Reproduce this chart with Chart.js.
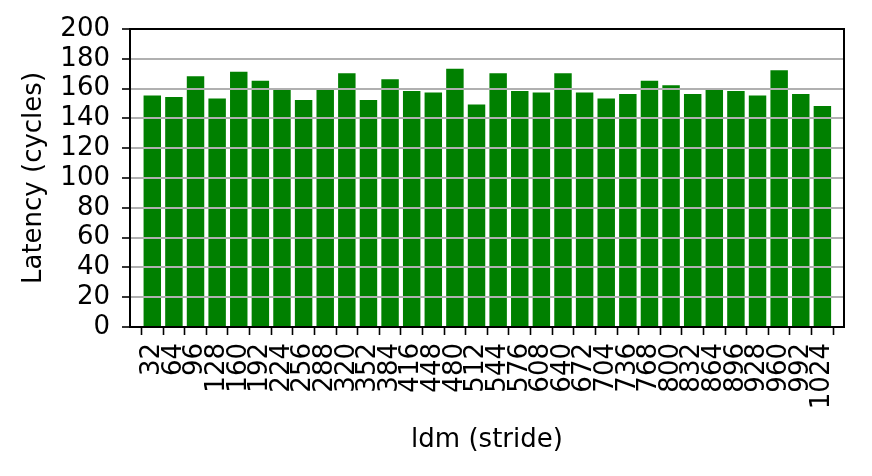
<!DOCTYPE html>
<html lang="en">
<head>
    <meta charset="UTF-8">
    <title>ldm stride latency</title>
    <style>
        * { margin: 0; padding: 0; }
        body { background: #fff; width: 872px; height: 476px; overflow: hidden; }
    </style>
    <script src="https://cdn.jsdelivr.net/npm/chart.js"></script>
</head>
<body>
    <canvas id="chart" width="872" height="476"></canvas>

    <script>
        // data
        const strides = [32, 64, 96, 128, 160, 192, 224, 256, 288, 320, 352, 384, 416, 448, 480, 512,
                         544, 576, 608, 640, 672, 704, 736, 768, 800, 832, 864, 896, 928, 960, 992, 1024];
        const latency = [156, 155, 169, 154, 172, 166, 161, 153, 161, 171, 153, 167, 159, 158, 174, 150,
                         171, 159, 158, 171, 158, 154, 157, 166, 163, 157, 161, 159, 156, 173, 157, 149];
        const yTicks = [0, 20, 40, 60, 80, 100, 120, 140, 160, 180, 200];

        Chart.defaults.font.family = "'DejaVu Sans', sans-serif";
        Chart.defaults.font.size = 26;
        Chart.defaults.color = '#000';

        // black box round the plot area, like matplotlib spines
        const frame = {
            id: 'frame',
            afterDraw(chart) {
                const { ctx, chartArea: a } = chart;
                ctx.save();
                ctx.strokeStyle = '#000';
                ctx.lineWidth = 2;
                ctx.strokeRect(a.left, a.top, a.right - a.left, a.bottom - a.top);
                ctx.restore();
            }
        };

        new Chart(document.getElementById('chart'), {
            type: 'bar',
            data: {
                datasets: [{
                    data: strides.map((s, i) => ({ x: s, y: latency[i] })),
                    backgroundColor: '#008000',
                    borderColor: 'rgba(255,255,255,0.45)',
                    borderWidth: 1,
                    categoryPercentage: 1,
                    barPercentage: 0.9
                }]
            },
            options: {
                responsive: false,
                animation: false,
                devicePixelRatio: 1,
                layout: { padding: { left: 19, right: 28, top: 29, bottom: 20 } },
                plugins: { legend: { display: false }, tooltip: { enabled: false } },
                scales: {
                    x: {
                        type: 'linear',
                        offset: false,
                        min: -1,
                        max: 1056,
                        afterBuildTicks: axis => { axis.ticks = strides.map(v => ({ value: v })); },
                        afterFit: axis => { axis.height = 129; },
                        ticks: {
                            autoSkip: false,
                            minRotation: 90,
                            maxRotation: 90,
                            padding: 8,
                            callback: v => String(v)
                        },
                        grid: {
                            drawOnChartArea: false,
                            drawTicks: true,
                            tickLength: 8,
                            tickColor: '#000',
                            tickWidth: 1.6
                        },
                        border: { display: true, color: '#000', width: 2, z: 1 },
                        title: {
                            display: true,
                            text: 'ldm (stride)',
                            padding: { top: 0, bottom: 0 }
                        }
                    },
                    y: {
                        min: 0,
                        max: 200,
                        afterBuildTicks: axis => { axis.ticks = yTicks.map(v => ({ value: v })); },
                        afterFit: axis => { axis.width = 111; },
                        ticks: { padding: 12, autoSkip: false },
                        grid: {
                            color: '#b0b0b0',
                            lineWidth: 2,
                            tickLength: 8,
                            tickColor: '#000',
                            tickWidth: 1.6,
                            z: 1
                        },
                        border: { display: true, color: '#000', width: 2, z: 1 },
                        title: {
                            display: true,
                            text: 'Latency (cycles)',
                            padding: { top: 0, bottom: 0 }
                        }
                    }
                }
            },
            plugins: [frame]
        });
    </script>
</body>
</html>
